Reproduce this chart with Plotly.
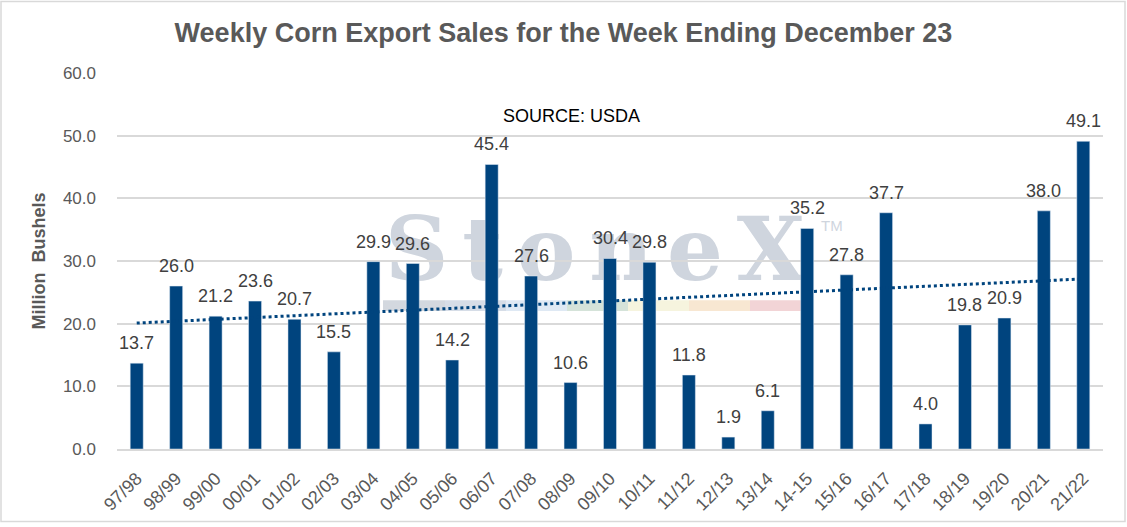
import base64

import numpy as np
import plotly.graph_objects as go

# marketing years and weekly corn export sales (million bushels)
years = ["97/98", "98/99", "99/00", "00/01", "01/02", "02/03", "03/04", "04/05",
         "05/06", "06/07", "07/08", "08/09", "09/10", "10/11", "11/12", "12/13",
         "13/14", "14-15", "15/16", "16/17", "17/18", "18/19", "19/20", "20/21",
         "21/22"]
sales = [13.7, 26.0, 21.2, 23.6, 20.7, 15.5, 29.9, 29.6, 14.2, 45.4, 27.6, 10.6,
         30.4, 29.8, 11.8, 1.9, 6.1, 35.2, 27.8, 37.7, 4.0, 19.8, 20.9, 38.0, 49.1]
y_ticks = [0, 10, 20, 30, 40, 50, 60]

W, H = 1127, 527
ML, MR, MT, MB = 117, 24, 73, 75
PW, PH = W - ML - MR, H - MT - MB

BAR = "#00447E"
GREY = "#595959"

# linear trendline (least squares, like Excel's)
idx = np.arange(len(sales))
slope, icpt = np.polyfit(idx, sales, 1)
trend = icpt + slope * idx

fig = go.Figure()
fig.add_trace(go.Bar(x=years, y=sales, marker_color=BAR, showlegend=False,
                     hoverinfo="x+y"))
fig.add_trace(go.Scatter(x=years, y=trend, mode="lines", showlegend=False,
                         line=dict(color=BAR, width=3, dash="dot"),
                         hoverinfo="skip"))


def px_x(p):
    return (p - ML) / PW


def px_y(p):
    return 1 - (p - MT) / PH


shapes = []
# StoneX watermark colour strip
strip = [(383, 445, "#d3d8df"), (445, 506, "#d6dde7"), (506, 567, "#dfe9f4"),
         (567, 628, "#d5e3d9"), (628, 689, "#f6f4de"), (689, 750, "#f8e7d2"),
         (750, 802, "#f2d4d6")]
for a, b, c in strip:
    shapes.append(dict(type="rect", xref="paper", yref="paper", layer="below",
                       x0=px_x(a), x1=px_x(b), y0=px_y(313), y1=px_y(302),
                       fillcolor=c, line_width=0))
# outer chart border
shapes.append(dict(type="rect", xref="paper", yref="paper",
                   x0=px_x(1), x1=px_x(W - 2), y0=px_y(H - 2), y1=px_y(1),
                   line=dict(color="#d9d9d9", width=1.5)))

# watermark as an svg image so it sits behind the bars
wm_svg = (
    '<svg xmlns="http://www.w3.org/2000/svg" width="470" height="90">'
    '<text x="2" y="77" font-family="DejaVu Serif" font-weight="bold" '
    'font-size="88" fill="#cfd5de" textLength="420" lengthAdjust="spacing">StoneX</text>'
    '<text x="438" y="27" font-family="Liberation Sans" font-size="15" '
    'fill="#cfd5de">TM</text></svg>'
)
wm_src = "data:image/svg+xml;base64," + base64.b64encode(wm_svg.encode()).decode()

annotations = []
for yr, v in zip(years, sales):
    annotations.append(dict(x=yr, y=v, text=f"{v:.1f}", showarrow=False,
                            yanchor="bottom", yshift=8,
                            font=dict(size=18, color="#404040")))
annotations.append(dict(xref="paper", yref="paper", x=px_x(571), y=px_y(104),
                        text="SOURCE: USDA", showarrow=False,
                        font=dict(size=18, color="black")))

fig.update_layout(
    width=W, height=H,
    margin=dict(l=ML, r=MR, t=MT, b=MB),
    paper_bgcolor="white", plot_bgcolor="white",
    font=dict(family="Liberation Sans, Arial", color=GREY),
    title=dict(text="<b>Weekly Corn Export Sales for the Week Ending December 23</b>",
               x=0.5, xanchor="center", y=1 - 33 / H, yanchor="middle",
               font=dict(size=27, color=GREY)),
    bargap=0.67,
    shapes=shapes,
    annotations=annotations,
    images=[dict(source=wm_src, xref="paper", yref="paper",
                 x=px_x(383), y=px_y(205), sizex=470 / PW, sizey=90 / PH,
                 xanchor="left", yanchor="top", sizing="stretch",
                 layer="below")],
)
fig.update_xaxes(tickangle=-45, tickfont=dict(size=18, color=GREY),
                 ticklabelstandoff=10,
                 showline=True, linecolor="#d9d9d9", linewidth=2,
                 showgrid=False, ticks="")
fig.update_yaxes(range=[0, 60], tickvals=y_ticks, tickformat=".1f",
                 tickfont=dict(size=17, color=GREY), ticklabelstandoff=20,
                 gridcolor="#d9d9d9", gridwidth=1.5, zeroline=False,
                 title=dict(text="<b>Million  Bushels</b>", standoff=12,
                            font=dict(size=18, color=GREY)))

fig.write_html("out.html", config={"displayModeBar": False},
               post_script="document.body.style.margin='0';")
